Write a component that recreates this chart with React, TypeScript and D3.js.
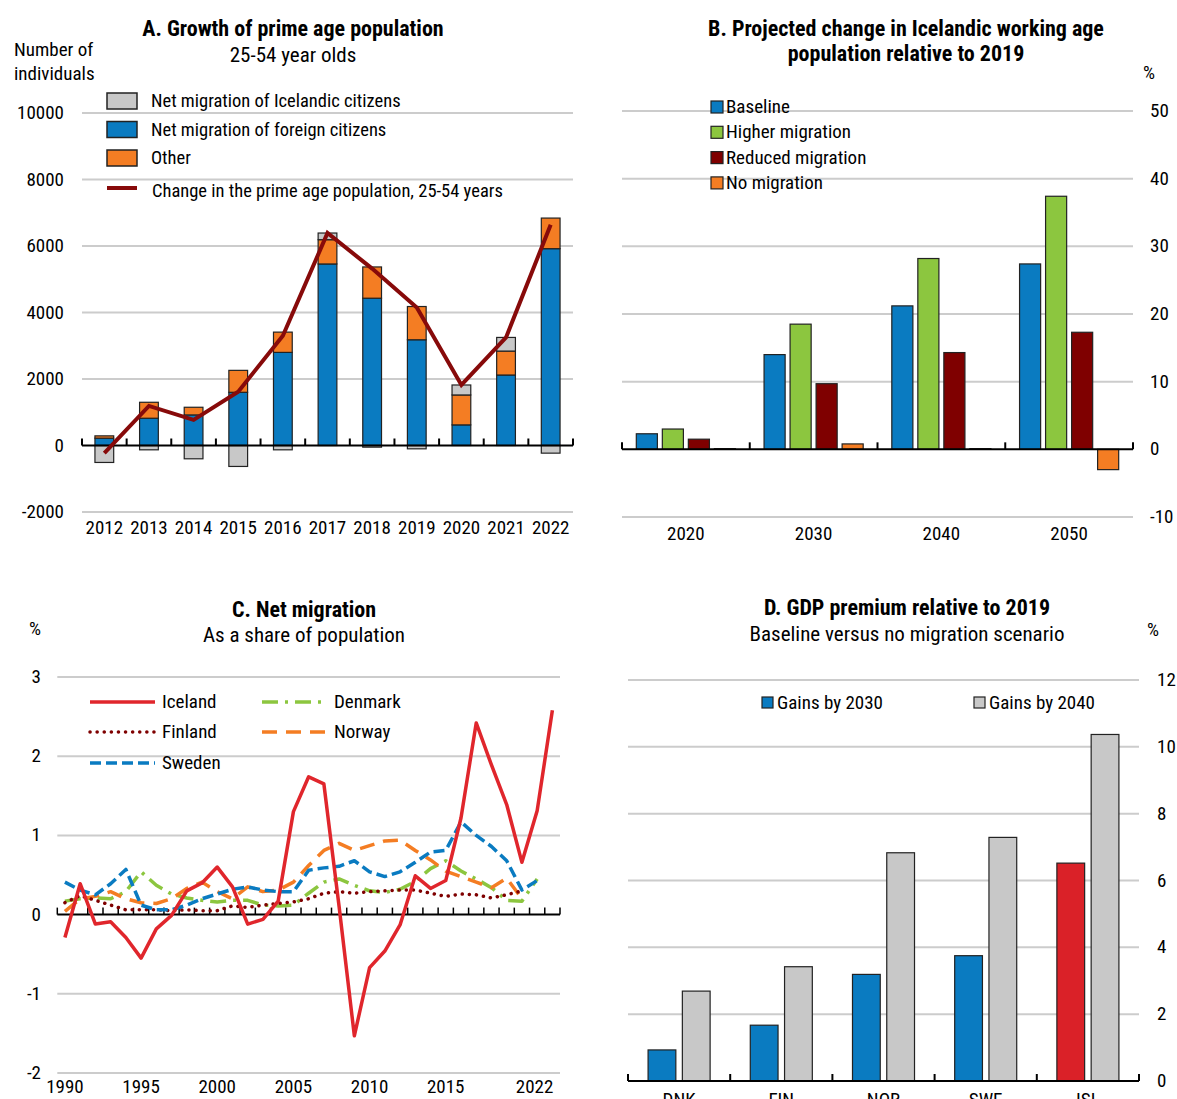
import * as d3 from 'd3';

const FONT = "'Liberation Sans Narrow','Arial Narrow','Roboto Condensed','DejaVu Sans Condensed',sans-serif";

// Panel A: growth of prime age population
const yearsA = ['2012', '2013', '2014', '2015', '2016', '2017', '2018', '2019', '2020', '2021', '2022'];
const icelandic = [-510, -130, -400, -630, -130, 200, -50, -100, 300, 410, -230];
const foreign = [220, 820, 920, 1600, 2800, 5460, 4430, 3180, 620, 2120, 5920];
const other = [70, 480, 230, 660, 610, 730, 940, 1000, 900, 720, 920];
const primeChange = [-230, 1190, 770, 1620, 3300, 6390, 5320, 4150, 1820, 3250, 6640];
const ticksA = [-2000, 0, 2000, 4000, 6000, 8000, 10000];

// Panel B: projected change in working age population
const yearsB = ['2020', '2030', '2040', '2050'];
const scenarios = ['Baseline', 'Higher migration', 'Reduced migration', 'No migration'];
const baseline = [2.3, 14.0, 21.2, 27.4];
const higherMig = [3.0, 18.5, 28.2, 37.4];
const reducedMig = [1.5, 9.7, 14.3, 17.3];
const noMig = [0.1, 0.8, 0.1, -3.0];
const ticksB = [-10, 0, 10, 20, 30, 40, 50];

// Panel C: net migration as share of population
const yearsC = d3.range(1990, 2023);
const iceland = [-0.29, 0.39, -0.12, -0.09, -0.29, -0.55, -0.18, -0.01, 0.30, 0.40, 0.60, 0.35, -0.12, -0.06, 0.17, 1.30, 1.74, 1.65, 0.10, -1.53, -0.67, -0.46, -0.13, 0.49, 0.33, 0.43, 1.22, 2.42, 1.89, 1.39, 0.66, 1.31, 2.58];
const finland = [0.15, 0.24, 0.18, 0.12, 0.06, 0.06, 0.06, 0.05, 0.06, 0.05, 0.05, 0.11, 0.09, 0.12, 0.14, 0.16, 0.20, 0.27, 0.29, 0.27, 0.29, 0.30, 0.31, 0.31, 0.27, 0.23, 0.26, 0.25, 0.21, 0.25, 0.30];
const sweden = [0.41, 0.31, 0.25, 0.39, 0.57, 0.12, 0.06, 0.06, 0.12, 0.20, 0.26, 0.32, 0.35, 0.31, 0.29, 0.29, 0.56, 0.59, 0.61, 0.68, 0.54, 0.48, 0.54, 0.66, 0.79, 0.81, 1.17, 1.00, 0.86, 0.68, 0.31, 0.43];
const denmark = [0.17, 0.20, 0.21, 0.20, 0.29, 0.54, 0.37, 0.26, 0.21, 0.18, 0.16, 0.18, 0.18, 0.12, 0.11, 0.12, 0.27, 0.41, 0.45, 0.37, 0.30, 0.28, 0.32, 0.42, 0.58, 0.68, 0.55, 0.45, 0.34, 0.18, 0.17, 0.45];
const norway = [0.04, 0.20, 0.23, 0.29, 0.20, 0.15, 0.14, 0.20, 0.33, 0.41, 0.29, 0.20, 0.35, 0.29, 0.31, 0.41, 0.62, 0.81, 0.90, 0.81, 0.87, 0.93, 0.94, 0.81, 0.69, 0.55, 0.48, 0.41, 0.34, 0.46, 0.20];
const ticksC = [-2, -1, 0, 1, 2, 3];
const labelYearsC = [1990, 1995, 2000, 2005, 2010, 2015];

// Panel D: GDP premium relative to 2019
const countriesD = ['DNK', 'FIN', 'NOR', 'SWE', 'ISL'];
const gains2030 = [0.93, 1.67, 3.19, 3.75, 6.52];
const gains2040 = [2.69, 3.42, 6.83, 7.29, 10.37];
const ticksD = [0, 2, 4, 6, 8, 10, 12];

const BLUE = '#0a7bc1';
const ORANGE = '#f47d23';
const GREY = '#c8c8c8';
const GREEN = '#8cc63f';
const DARKRED = '#7f0000';
const RED = '#e0262c';
const GRID = '#cccccc';

const txt = {fontFamily: FONT, fontSize: 19, fill: '#000'};
const leg = {fontFamily: FONT, fontSize: 18.5, fill: '#000'};
const sub = {fontFamily: FONT, fontSize: 21, fill: '#000'};
const bold = {fontFamily: FONT, fontSize: 22, fontWeight: 'bold', fill: '#000'};

function PanelA() {
    const x = d3.scaleBand<string>().domain(yearsA).range([82, 573]);
    const y = d3.scaleLinear().domain([-2000, 10000]).range([512, 113]);
    const rows = yearsA.map((yr, i) => ({yr, foreign: foreign[i], other: other[i], icelandic: icelandic[i]}));
    const stack = d3.stack<any>().keys(['foreign', 'other', 'icelandic']).offset(d3.stackOffsetDiverging)(rows);
    const colors: Record<string, string> = {foreign: BLUE, other: ORANGE, icelandic: GREY};
    const bw = x.bandwidth() * 0.42;
    const cx = (yr: string) => (x(yr) as number) + x.bandwidth() / 2;
    const line = d3.line<number>().x((_, i) => cx(yearsA[i])).y((d) => y(d));
    const boundaries = [...yearsA.map((yr) => x(yr) as number), x.range()[1]];
    const legend = [
        {label: 'Net migration of Icelandic citizens', color: GREY},
        {label: 'Net migration of foreign citizens', color: BLUE},
        {label: 'Other', color: ORANGE},
    ];
    return (
        <g>
            <text x={293} y={36} textAnchor="middle" style={bold}>A. Growth of prime age population</text>
            <text x={293} y={62} textAnchor="middle" style={sub}>25-54 year olds</text>
            <text x={14} y={56} style={txt}>Number of</text>
            <text x={14} y={80} style={txt}>individuals</text>
            {ticksA.map((t) => (
                <g key={t}>
                    {t !== 0 && <line x1={82} x2={573} y1={y(t)} y2={y(t)} stroke={GRID} strokeWidth={2} />}
                    <text x={64} y={y(t) + 6} textAnchor="end" style={txt}>{t}</text>
                </g>
            ))}
            {stack.map((s) =>
                s.map((d, i) => (
                    d[1] - d[0] !== 0 && (
                        <rect key={s.key + i} x={cx(yearsA[i]) - bw / 2} width={bw}
                            y={y(Math.max(d[0], d[1]))} height={Math.abs(y(d[0]) - y(d[1]))}
                            fill={colors[s.key]} stroke="#222" strokeWidth={1.2} />
                    )
                ))
            )}
            <line x1={82} x2={573} y1={y(0)} y2={y(0)} stroke="#000" strokeWidth={2} />
            {boundaries.map((b, i) => (
                <line key={i} x1={b} x2={b} y1={y(0)} y2={y(0) - 7} stroke="#000" strokeWidth={2} />
            ))}
            <path d={line(primeChange) as string} fill="none" stroke="#870a0a" strokeWidth={4} />
            {yearsA.map((yr) => (
                <text key={yr} x={cx(yr)} y={534} textAnchor="middle" style={txt}>{yr}</text>
            ))}
            {legend.map((l, i) => (
                <g key={l.label}>
                    <rect x={107} y={93 + i * 28.5} width={30} height={16} fill={l.color} stroke="#222" strokeWidth={1.5} />
                    <text x={151} y={107 + i * 28.5} style={leg}>{l.label}</text>
                </g>
            ))}
            <line x1={107} x2={137} y1={188} y2={188} stroke="#870a0a" strokeWidth={4} />
            <text x={152} y={197} style={leg}>Change in the prime age population, 25-54 years</text>
        </g>
    );
}

function PanelB() {
    const x0 = d3.scaleBand<string>().domain(yearsB).range([622, 1133]);
    const x1 = d3.scaleBand<string>().domain(scenarios).range([0, x0.bandwidth()]).paddingInner(0.19).paddingOuter(0.55);
    const y = d3.scaleLinear().domain([-10, 50]).range([517, 111]);
    const series = [baseline, higherMig, reducedMig, noMig];
    const colors = [BLUE, GREEN, DARKRED, ORANGE];
    const boundaries = [...yearsB.map((yr) => x0(yr) as number), x0.range()[1]];
    return (
        <g>
            <text x={906} y={36} textAnchor="middle" style={bold}>B. Projected change in Icelandic working age</text>
            <text x={906} y={61} textAnchor="middle" style={bold}>population relative to 2019</text>
            <text x={1149} y={79} textAnchor="middle" style={txt}>%</text>
            {ticksB.map((t) => (
                <g key={t}>
                    {t !== 0 && <line x1={622} x2={1133} y1={y(t)} y2={y(t)} stroke={GRID} strokeWidth={2} />}
                    <text x={1150} y={y(t) + 6} style={txt}>{t}</text>
                </g>
            ))}
            {series.map((vals, si) =>
                vals.map((v, gi) => (
                    <rect key={si + '-' + gi} x={(x0(yearsB[gi]) as number) + (x1(scenarios[si]) as number)}
                        width={x1.bandwidth()} y={y(Math.max(0, v))} height={Math.abs(y(v) - y(0))}
                        fill={colors[si]} stroke="#222" strokeWidth={1.2} />
                ))
            )}
            <line x1={622} x2={1133} y1={y(0)} y2={y(0)} stroke="#000" strokeWidth={2} />
            {boundaries.map((b, i) => (
                <line key={i} x1={b} x2={b} y1={y(0)} y2={y(0) - 7} stroke="#000" strokeWidth={2} />
            ))}
            {yearsB.map((yr) => (
                <text key={yr} x={(x0(yr) as number) + x0.bandwidth() / 2} y={540} textAnchor="middle" style={txt}>{yr}</text>
            ))}
            {scenarios.map((s, i) => (
                <g key={s}>
                    <rect x={711} y={101 + i * 25.3} width={12} height={12} fill={colors[i]} stroke="#222" strokeWidth={1.2} />
                    <text x={726} y={113 + i * 25.3} style={txt}>{s}</text>
                </g>
            ))}
        </g>
    );
}

function PanelC() {
    const x = d3.scaleBand<number>().domain(yearsC).range([57.3, 560]);
    const y = d3.scaleLinear().domain([-2, 3]).range([1073, 677]);
    const cx = (yr: number) => (x(yr) as number) + x.bandwidth() / 2;
    const line = d3.line<number>().x((_, i) => cx(yearsC[i])).y((d) => y(d));
    const boundaries = [...yearsC.map((yr) => x(yr) as number), x.range()[1]];
    const lines = [
        {name: 'Denmark', data: denmark, color: GREEN, dash: '16 7 3 7', cap: 'butt'},
        {name: 'Norway', data: norway, color: ORANGE, dash: '15 9', cap: 'butt'},
        {name: 'Finland', data: finland, color: DARKRED, dash: '0.1 7', cap: 'round'},
        {name: 'Sweden', data: sweden, color: BLUE, dash: '11 5', cap: 'butt'},
        {name: 'Iceland', data: iceland, color: RED, dash: null, cap: 'butt'},
    ];
    const legend = [
        {name: 'Iceland', lx: 90, ty: 702},
        {name: 'Finland', lx: 90, ty: 732},
        {name: 'Sweden', lx: 90, ty: 763},
        {name: 'Denmark', lx: 262, ty: 702},
        {name: 'Norway', lx: 262, ty: 732},
    ];
    return (
        <g>
            <text x={304} y={617} textAnchor="middle" style={bold}>C. Net migration</text>
            <text x={304} y={642} textAnchor="middle" style={sub}>As a share of population</text>
            <text x={35} y={635} textAnchor="middle" style={txt}>%</text>
            {ticksC.map((t) => (
                <g key={t}>
                    {t !== 0 && <line x1={57.3} x2={560} y1={y(t)} y2={y(t)} stroke={GRID} strokeWidth={2} />}
                    <text x={41} y={y(t) + 6} textAnchor="end" style={txt}>{t}</text>
                </g>
            ))}
            <line x1={57.3} x2={560} y1={y(0)} y2={y(0)} stroke="#000" strokeWidth={2} />
            {boundaries.map((b, i) => (
                <line key={i} x1={b} x2={b} y1={y(0)} y2={y(0) - 7} stroke="#000" strokeWidth={1.5} />
            ))}
            {lines.map((l) => (
                <path key={l.name} d={line(l.data) as string} fill="none" stroke={l.color}
                    strokeWidth={3.5} strokeDasharray={l.dash ?? undefined}
                    strokeLinecap={l.cap as any} strokeLinejoin="round" />
            ))}
            {legend.map((g) => {
                const l = lines.find((d) => d.name === g.name)!;
                return (
                    <g key={g.name}>
                        <line x1={g.lx} x2={g.lx + 65} y1={g.ty} y2={g.ty} stroke={l.color} strokeWidth={3.5}
                            strokeDasharray={l.dash ?? undefined} strokeLinecap={l.cap as any} />
                        <text x={g.lx + 72} y={g.ty + 6} style={txt}>{g.name}</text>
                    </g>
                );
            })}
            {labelYearsC.map((yr) => (
                <text key={yr} x={cx(yr)} y={1093} textAnchor="middle" style={txt}>{yr}</text>
            ))}
            <text x={cx(2022) + 1} y={1093} textAnchor="end" style={txt}>2022</text>
        </g>
    );
}

function PanelD() {
    const x0 = d3.scaleBand<string>().domain(countriesD).range([628, 1139]);
    const x1 = d3.scaleBand<string>().domain(['2030', '2040']).range([0, x0.bandwidth()]).paddingInner(0.19).paddingOuter(0.586);
    const y = d3.scaleLinear().domain([0, 12]).range([1081, 680]);
    const boundaries = [...countriesD.map((c) => x0(c) as number), x0.range()[1]];
    return (
        <g>
            <text x={907} y={615} textAnchor="middle" style={bold}>D. GDP premium relative to 2019</text>
            <text x={907} y={641} textAnchor="middle" style={sub}>Baseline versus no migration scenario</text>
            <text x={1153} y={636} textAnchor="middle" style={txt}>%</text>
            {ticksD.map((t) => (
                <g key={t}>
                    {t !== 0 && <line x1={628} x2={1139} y1={y(t)} y2={y(t)} stroke={GRID} strokeWidth={2} />}
                    <text x={1157} y={y(t) + 6} style={txt}>{t}</text>
                </g>
            ))}
            {countriesD.map((c, i) => (
                <g key={c}>
                    <rect x={(x0(c) as number) + (x1('2030') as number)} width={x1.bandwidth()}
                        y={y(gains2030[i])} height={y(0) - y(gains2030[i])}
                        fill={c === 'ISL' ? '#da2128' : BLUE} stroke="#222" strokeWidth={1.2} />
                    <rect x={(x0(c) as number) + (x1('2040') as number)} width={x1.bandwidth()}
                        y={y(gains2040[i])} height={y(0) - y(gains2040[i])}
                        fill={GREY} stroke="#222" strokeWidth={1.2} />
                    <text x={(x0(c) as number) + x0.bandwidth() / 2} y={1106} textAnchor="middle" style={txt}>{c}</text>
                </g>
            ))}
            <line x1={628} x2={1139} y1={y(0)} y2={y(0)} stroke="#000" strokeWidth={2} />
            {boundaries.map((b, i) => (
                <line key={i} x1={b} x2={b} y1={y(0)} y2={y(0) - 7} stroke="#000" strokeWidth={2} />
            ))}
            <rect x={762} y={697} width={11} height={11} fill={BLUE} stroke="#222" strokeWidth={1.2} />
            <text x={777} y={709} style={txt}>Gains by 2030</text>
            <rect x={974} y={697} width={11} height={11} fill={GREY} stroke="#222" strokeWidth={1.2} />
            <text x={989} y={709} style={txt}>Gains by 2040</text>
        </g>
    );
}

export default function App() {
    return (
        <svg width={1177} height={1099} style={{position: 'absolute', left: 0, top: 0, background: '#fff'}}>
            <PanelA />
            <PanelB />
            <PanelC />
            <PanelD />
        </svg>
    );
}
